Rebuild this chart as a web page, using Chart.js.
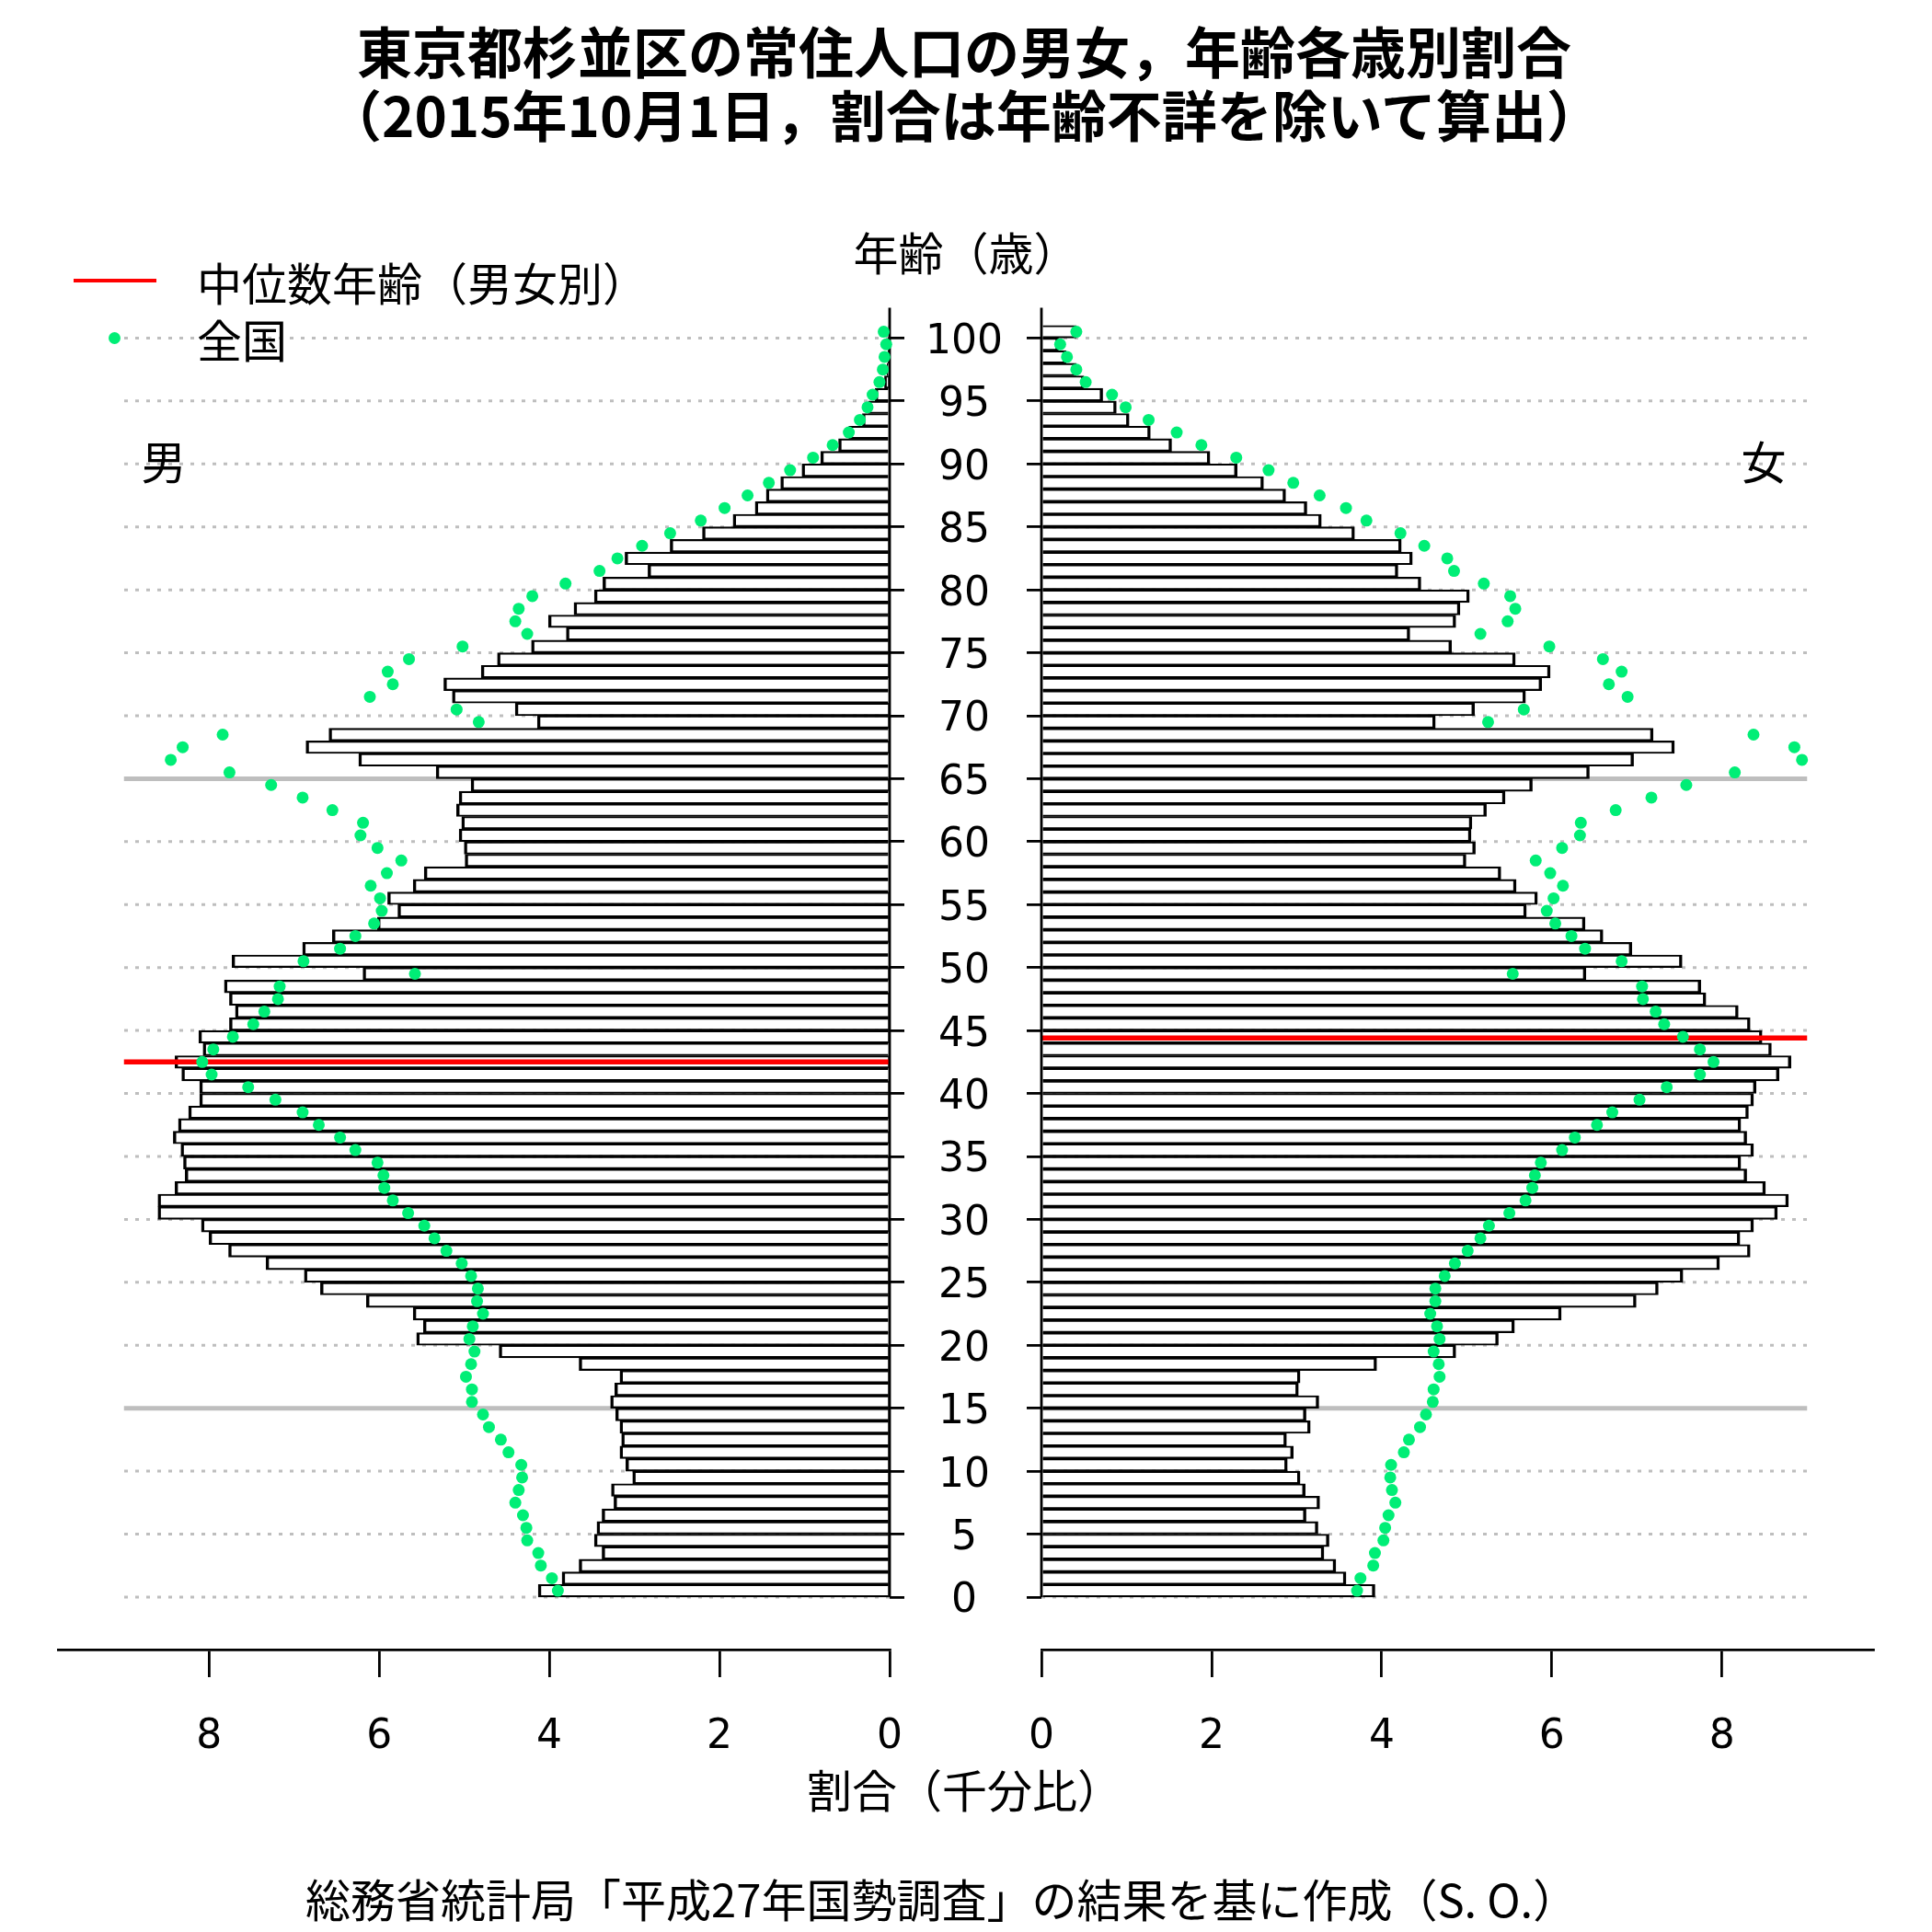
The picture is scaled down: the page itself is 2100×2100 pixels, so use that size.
<!DOCTYPE html>
<html lang="ja">
<head>
<meta charset="utf-8">
<title>東京都杉並区の常住人口の男女，年齢各歳別割合</title>
<script src="https://cdn.jsdelivr.net/npm/chart.js@4.4.1/dist/chart.umd.min.js"></script>
<style>
  html, body { margin: 0; padding: 0; background: #fff; }
  #page {
    position: relative; width: 2100px; height: 2100px; overflow: hidden;
    font-family: "Noto Sans CJK JP", sans-serif; color: #000;
  }
  canvas { position: absolute; top: 0; }
  .t { position: absolute; white-space: nowrap; line-height: 1; font-size: 49px; }
  .c { transform: translate(-50%, -50%); }
  .l { transform: translateY(-50%); }
  .title { font-size: 60px; font-weight: bold; }
</style>
</head>
<body>
<div id="page">
  <canvas id="male" width="1100" height="1960" style="left:0px;width:1100px;height:1960px"></canvas>
  <canvas id="female" width="1100" height="1960" style="left:1000px;width:1100px;height:1960px"></canvas>

  <div class="t c title" style="left:1048px;top:54px">東京都杉並区の常住人口の男女，年齢各歳別割合</div>
  <div class="t c title" style="left:1048px;top:123px">（2015年10月1日，割合は年齢不詳を除いて算出）</div>

  <div class="t c" style="left:1050px;top:272px">年齢（歳）</div>

  <div style="position:absolute;left:80px;top:303px;width:90px;height:4px;background:#ff0000"></div>
  <div class="t l" style="left:214px;top:305px">中位数年齢（男女別）</div>
  <div style="position:absolute;left:118px;top:361px;width:13px;height:13px;border-radius:50%;background:#00ee76"></div>
  <div class="t l" style="left:214px;top:367px">全国</div>

  <div class="t c" style="left:178px;top:499px">男</div>
  <div class="t c" style="left:1917px;top:499px">女</div>

  <div class="t l" style="left:877px;top:1943px">割合（千分比）</div>
  <div class="t l" style="left:332px;top:2062px">総務省統計局「平成27年国勢調査」の結果を基に作成（S. O.）</div>
</div>

<script>
// ages 0..100, one bar per age
const ages = Array.from({ length: 101 }, (_, i) => i);

// 杉並区 male share per age (per mille), age 0 first
const maleShare = [
  4.13, 3.85, 3.65, 3.38, 3.47, 3.44, 3.38, 3.24, 3.27, 3.02,
  3.10, 3.17, 3.15, 3.17, 3.22, 3.28, 3.23, 3.17, 3.65, 4.59,
  5.56, 5.48, 5.60, 6.15, 6.69, 6.88, 7.33, 7.77, 8.00, 8.09,
  8.60, 8.60, 8.40, 8.28, 8.30, 8.33, 8.42, 8.36, 8.24, 8.11,
  8.11, 8.32, 8.40, 8.07, 8.12, 7.76, 7.69, 7.76, 7.82, 6.19,
  7.73, 6.90, 6.55, 6.02, 5.78, 5.90, 5.60, 5.47, 4.99, 5.00,
  5.06, 5.03, 5.09, 5.06, 4.92, 5.33, 6.24, 6.86, 6.59, 4.14,
  4.40, 5.14, 5.24, 4.80, 4.61, 4.21, 3.80, 4.01, 3.71, 3.47,
  3.37, 2.84, 3.11, 2.58, 2.20, 1.84, 1.58, 1.45, 1.28, 1.03,
  0.81, 0.60, 0.48, 0.32, 0.25, 0.17, 0.06, 0.03, 0.02, 0.02,
  0.01
];

// 杉並区 female share per age (per mille)
const femaleShare = [
  3.92, 3.58, 3.46, 3.32, 3.38, 3.25, 3.11, 3.27, 3.10, 3.04,
  2.89, 2.96, 2.88, 3.16, 3.11, 3.26, 3.02, 3.04, 3.94, 4.87,
  5.37, 5.56, 6.11, 6.99, 7.25, 7.54, 7.97, 8.33, 8.21, 8.37,
  8.65, 8.78, 8.51, 8.29, 8.22, 8.37, 8.29, 8.22, 8.31, 8.37,
  8.40, 8.67, 8.81, 8.58, 8.47, 8.33, 8.19, 7.81, 7.75, 6.40,
  7.53, 6.94, 6.60, 6.39, 5.70, 5.83, 5.58, 5.40, 4.99, 5.10,
  5.05, 5.06, 5.23, 5.45, 5.77, 6.44, 6.96, 7.44, 7.19, 4.63,
  5.09, 5.69, 5.88, 5.98, 5.57, 4.82, 4.33, 4.87, 4.92, 5.03,
  4.46, 4.19, 4.36, 4.23, 3.68, 3.29, 3.12, 2.87, 2.61, 2.30,
  1.98, 1.53, 1.28, 1.03, 0.88, 0.72, 0.50, 0.41, 0.29, 0.20,
  0.41
];

// 全国 (whole country) male share per age
const maleNational = [
  3.90, 3.97, 4.10, 4.13, 4.26, 4.27, 4.31, 4.40, 4.36, 4.32,
  4.33, 4.48, 4.57, 4.71, 4.78, 4.91, 4.91, 4.98, 4.92, 4.88,
  4.94, 4.90, 4.78, 4.85, 4.84, 4.92, 5.03, 5.21, 5.35, 5.47,
  5.66, 5.84, 5.94, 5.95, 6.02, 6.28, 6.46, 6.71, 6.90, 7.22,
  7.54, 7.97, 8.08, 7.95, 7.72, 7.48, 7.35, 7.19, 7.17, 5.58,
  6.89, 6.46, 6.28, 6.06, 5.97, 5.99, 6.10, 5.91, 5.74, 6.02,
  6.22, 6.19, 6.55, 6.90, 7.27, 7.76, 8.45, 8.31, 7.84, 4.83,
  5.09, 6.11, 5.84, 5.90, 5.65, 5.02, 4.26, 4.40, 4.36, 4.20,
  3.81, 3.41, 3.20, 2.91, 2.58, 2.22, 1.94, 1.67, 1.42, 1.17,
  0.90, 0.67, 0.48, 0.35, 0.26, 0.20, 0.12, 0.08, 0.06, 0.04,
  0.07
];

// 全国 female share per age
const femaleNational = [
  3.71, 3.75, 3.90, 3.92, 4.02, 4.04, 4.08, 4.16, 4.12, 4.10,
  4.11, 4.26, 4.32, 4.45, 4.52, 4.60, 4.61, 4.68, 4.67, 4.61,
  4.68, 4.65, 4.57, 4.63, 4.63, 4.74, 4.86, 5.01, 5.16, 5.26,
  5.50, 5.69, 5.77, 5.80, 5.87, 6.12, 6.27, 6.53, 6.71, 7.03,
  7.35, 7.74, 7.90, 7.74, 7.54, 7.32, 7.22, 7.07, 7.06, 5.54,
  6.82, 6.39, 6.23, 6.04, 5.94, 6.02, 6.13, 5.98, 5.81, 6.12,
  6.33, 6.34, 6.75, 7.17, 7.58, 8.15, 8.94, 8.85, 8.37, 5.25,
  5.67, 6.89, 6.67, 6.82, 6.60, 5.97, 5.16, 5.48, 5.57, 5.51,
  5.20, 4.85, 4.77, 4.50, 4.22, 3.82, 3.58, 3.27, 2.96, 2.67,
  2.29, 1.88, 1.59, 1.26, 0.99, 0.83, 0.52, 0.41, 0.30, 0.22,
  0.41
];

// median ages (中位数年齢)
const maleMedian = 42.5;
const femaleMedian = 44.4;

// axis ticks and reference lines
const ageTicks = [0, 5, 10, 15, 20, 25, 30, 35, 40, 45, 50, 55, 60, 65, 70, 75, 80, 85, 90, 95, 100];
const shareTicks = [0, 2, 4, 6, 8];
const gridAges = ageTicks;
const boldAges = [15, 65];
const gridEnd = 9;
const axisTop = 102.4;

const CANVAS_H = 1960;
const AREA_BOTTOM = 1793;

function buildDatasets(share, national, median) {
  let sets = [];

  // dotted lines every 5 years
  gridAges.forEach(g => {
    sets.push({
      type: 'line',
      data: [{ x: 0, y: g }, { x: gridEnd, y: g }],
      borderColor: '#bebebe',
      borderWidth: 3,
      borderDash: [4, 8],
      pointRadius: 0,
      order: 10
    });
  });

  // solid grey lines at 15 and 65
  boldAges.forEach(g => {
    sets.push({
      type: 'line',
      data: [{ x: 0, y: g }, { x: gridEnd, y: g }],
      borderColor: '#bebebe',
      borderWidth: 5,
      pointRadius: 0,
      order: 9
    });
  });

  sets.push({
    type: 'bar',
    indexAxis: 'y',
    data: ages.map((a, i) => ({ x: share[i], y: a + 0.5 })),
    backgroundColor: 'rgba(0,0,0,0)',
    borderColor: '#000',
    borderWidth: { top: 1.5, bottom: 1.5, left: 2.8, right: 2.8 },
    borderSkipped: 'start',
    barPercentage: 1,
    categoryPercentage: 1,
    order: 5
  });

  // median age
  sets.push({
    type: 'line',
    data: [{ x: 0, y: median }, { x: gridEnd, y: median }],
    borderColor: '#ff0000',
    borderWidth: 5.5,
    pointRadius: 0,
    order: 2
  });

  // vertical axis line, stops at age 0
  sets.push({
    type: 'line',
    data: [{ x: 0, y: 0 }, { x: 0, y: axisTop }],
    borderColor: '#000',
    borderWidth: 2.8,
    pointRadius: 0,
    clip: false,
    order: 1
  });

  // national values
  sets.push({
    type: 'line',
    data: ages.map((a, i) => ({ x: national[i], y: a + 0.5 })),
    showLine: false,
    pointRadius: 6.5,
    pointBackgroundColor: '#00ee76',
    pointBorderWidth: 0,
    clip: false,
    order: 0
  });

  return sets;
}

function buildOptions(isMale) {
  return {
    responsive: false,
    animation: false,
    layout: {
      padding: isMale ? { left: 63, top: 299, right: 0, bottom: 0 }
                      : { left: 0, top: 299, right: 64, bottom: 0 }
    },
    plugins: {
      legend: { display: false },
      tooltip: { enabled: false }
    },
    scales: {
      x: {
        type: 'linear',
        min: 0,
        max: 9.776,
        reverse: isMale,
        offset: false,
        position: 'bottom',
        afterBuildTicks: s => { s.ticks = shareTicks.map(v => ({ value: v })); },
        afterFit: s => { s.height = CANVAS_H - AREA_BOTTOM; },
        ticks: {
          autoSkip: false,
          maxRotation: 0,
          padding: 39,
          color: '#000',
          font: { family: 'DejaVu Sans', size: 44 }
        },
        grid: {
          offset: false,
          drawOnChartArea: false,
          drawTicks: true,
          tickLength: 30,
          color: '#000',
          lineWidth: 2.8
        },
        border: { display: true, color: '#000', width: 2.8 }
      },
      y: {
        type: 'linear',
        min: -4.17,
        max: 105,
        offset: false,
        position: isMale ? 'right' : 'left',
        afterBuildTicks: s => { s.ticks = ageTicks.map(v => ({ value: v })); },
        afterFit: s => { s.width = isMale ? 133 : 132; },
        ticks: {
          display: isMale,
          autoSkip: false,
          crossAlign: 'center',
          padding: 23,
          labelOffset: 5,
          color: '#000',
          font: { family: 'DejaVu Sans', size: 44 }
        },
        grid: {
          offset: false,
          drawOnChartArea: false,
          drawTicks: true,
          tickLength: 16,
          color: '#000',
          lineWidth: 2.8
        },
        border: { display: false }
      }
    }
  };
}

new Chart(document.getElementById('male'), {
  type: 'bar',
  data: { datasets: buildDatasets(maleShare, maleNational, maleMedian) },
  options: buildOptions(true)
});

new Chart(document.getElementById('female'), {
  type: 'bar',
  data: { datasets: buildDatasets(femaleShare, femaleNational, femaleMedian) },
  options: buildOptions(false)
});
</script>
</body>
</html>
